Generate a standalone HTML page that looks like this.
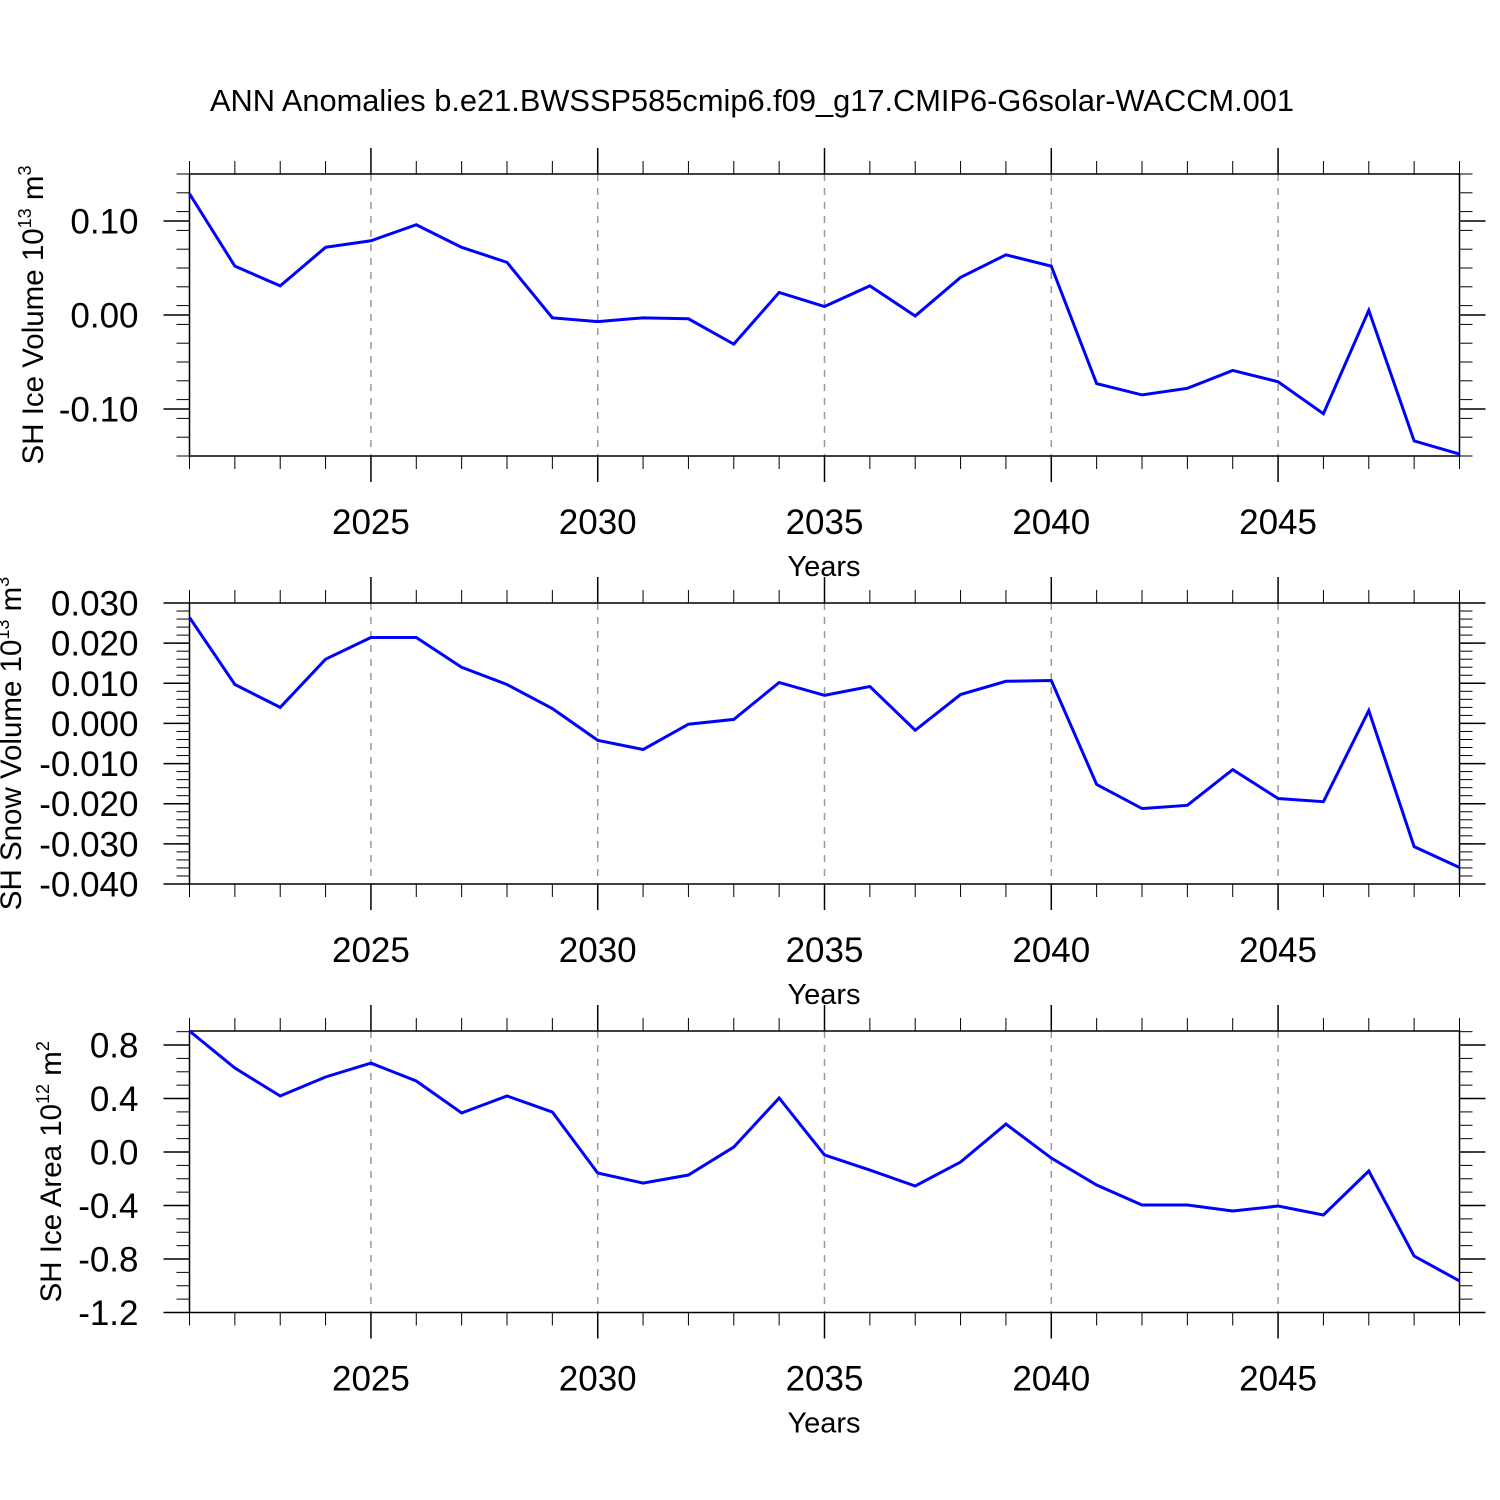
<!DOCTYPE html>
<html><head><meta charset="utf-8"><style>
body{margin:0;background:#fff}
svg{display:block;font-family:"Liberation Sans",sans-serif}
</style></head><body>
<svg id="chart" width="1500" height="1500" viewBox="0 0 1500 1500">
<text x="752" y="111" font-size="30.8" text-anchor="middle">ANN Anomalies b.e21.BWSSP585cmip6.f09_g17.CMIP6-G6solar-WACCM.001</text>
</svg>
<script>
const years = [2021,2022,2023,2024,2025,2026,2027,2028,2029,2030,2031,2032,2033,2034,2035,2036,2037,2038,2039,2040,2041,2042,2043,2044,2045,2046,2047,2048,2049];
const iceVolume = [0.129,0.052,0.031,0.072,0.079,0.096,0.072,0.056,-0.003,-0.007,-0.003,-0.004,-0.031,0.024,0.009,0.031,-0.001,0.040,0.064,0.052,-0.073,-0.085,-0.078,-0.059,-0.071,-0.105,0.005,-0.134,-0.148];
const snowVolume = [0.0264,0.0097,0.0040,0.0160,0.0214,0.0214,0.0140,0.0097,0.0037,-0.0042,-0.0065,-0.0002,0.0010,0.0102,0.0070,0.0092,-0.0017,0.0072,0.0105,0.0107,-0.0152,-0.0212,-0.0204,-0.0115,-0.0187,-0.0195,0.0032,-0.0307,-0.0359];
const iceArea = [0.905,0.628,0.419,0.561,0.665,0.531,0.292,0.419,0.299,-0.157,-0.232,-0.172,0.037,0.404,-0.022,-0.135,-0.254,-0.075,0.209,-0.045,-0.247,-0.396,-0.396,-0.441,-0.404,-0.471,-0.142,-0.778,-0.964];
const xTickLabels = [2025,2030,2035,2040,2045];
const iceVolTicks = [-0.10,0.00,0.10];
const snowTicks = [-0.040,-0.030,-0.020,-0.010,0.000,0.010,0.020,0.030];
const areaTicks = [-1.2,-0.8,-0.4,0.0,0.4,0.8];

const NS="http://www.w3.org/2000/svg";
const svg=document.getElementById('chart');
function mk(tag,attrs,parent){const e=document.createElementNS(NS,tag);for(const k in attrs)e.setAttribute(k,attrs[k]);(parent||svg).appendChild(e);return e;}
const X0=189.5,X1=1459.5;
const xs=y=>X0+(y-2021)/(2049-2021)*(X1-X0);

function panel(key,top,bottom,ymin,ymax,data,ticks,minorStep,dec,labelParts,labelX){
  const g=mk('g',{});
  
  
  const ys=v=>bottom-(v-ymin)/(ymax-ymin)*(bottom-top);
  xTickLabels.forEach(y=>{const l=mk('line',{x1:xs(y),x2:xs(y),y1:top,y2:bottom,stroke:'#999','stroke-width':1.5,'stroke-dasharray':'7,7'},g);
    });
  years.forEach(y=>{const maj=xTickLabels.includes(y);const L=maj?26:13;
    mk('line',{x1:xs(y),x2:xs(y),y1:top-L,y2:top,stroke:'#000','stroke-width':maj?1.5:1},g);
    mk('line',{x1:xs(y),x2:xs(y),y1:bottom,y2:bottom+L,stroke:'#000','stroke-width':maj?1.5:1},g);});
  xTickLabels.forEach(y=>{const t=mk('text',{x:xs(y),y:bottom+78,'font-size':35,'text-anchor':'middle'},g);t.textContent=y;
    });
  const xt=mk('text',{x:824,y:bottom+120,'font-size':29,'text-anchor':'middle'},g);xt.textContent='Years';
  
  const n=Math.round((ymax-ymin)/minorStep);
  for(let i=0;i<=n;i++){const v=ymin+i*minorStep;if(v>ymax+1e-9)break;const yy=ys(v);
    mk('line',{x1:X0-13,x2:X0,y1:yy,y2:yy,stroke:'#000','stroke-width':1},g);
    mk('line',{x1:X1,x2:X1+13,y1:yy,y2:yy,stroke:'#000','stroke-width':1},g);}
  ticks.forEach(v=>{const yy=ys(v);
    mk('line',{x1:X0-26,x2:X0,y1:yy,y2:yy,stroke:'#000','stroke-width':1.5},g);
    mk('line',{x1:X1,x2:X1+26,y1:yy,y2:yy,stroke:'#000','stroke-width':1.5},g);
    const t=mk('text',{x:X0-51,y:yy+12.5,'font-size':35,'text-anchor':'end'},g);t.textContent=v.toFixed(dec);
    });
  const r=mk('rect',{x:X0,y:top,width:X1-X0,height:bottom-top,fill:'none',stroke:'#000','stroke-width':1.5},g);
  
  const p=mk('polyline',{points:data.map((v,i)=>xs(years[i])+','+ys(v)).join(' '),fill:'none',stroke:'#0000ff','stroke-width':3,'stroke-linejoin':'miter'},g);
  
  const cy=(top+bottom)/2;
  const t=mk('text',{x:labelX,y:cy,'font-size':29.5,'text-anchor':'middle',transform:`rotate(-90 ${labelX} ${cy})`},g);
  
  const a=mk('tspan',{},t);a.textContent=labelParts[0];
  const b=mk('tspan',{dy:-12,'font-size':18},t);b.textContent=labelParts[1];
  const c=mk('tspan',{dy:12},t);c.textContent=' m';
  const d=mk('tspan',{dy:-12,'font-size':18},t);d.textContent=labelParts[2];
}
panel('ice-volume',174,456,-0.15,0.15,iceVolume,iceVolTicks,0.02,2,['SH Ice Volume 10','13','3'],43);
panel('snow-volume',603,884,-0.04,0.03,snowVolume,snowTicks,0.002,3,['SH Snow Volume 10','13','3'],21);
panel('ice-area',1031,1312.5,-1.2,0.905,iceArea,areaTicks,0.1,1,['SH Ice Area 10','12','2'],61);
</script>
</body></html>
